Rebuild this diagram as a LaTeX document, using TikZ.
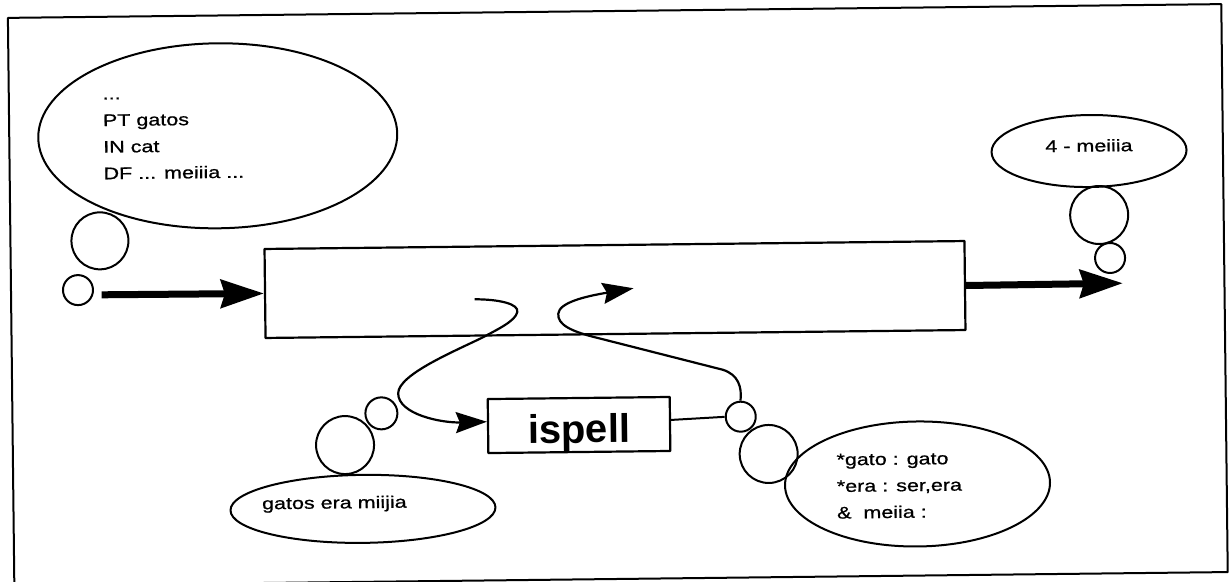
\documentclass[tikz,border=0pt]{standalone}
\usepackage{fontspec}
\setmainfont{Liberation Sans}[FakeStretch=1.28,FakeBold=0.8]
\newfontfamily\ispellfont{Liberation Sans}
\usetikzlibrary{arrows.meta,shapes.geometric}
\begin{document}
\begin{tikzpicture}[x=1pt,y=-1pt,line join=round,
  bubble/.style={draw,line width=2pt,inner sep=0pt},
  circ/.style={bubble,circle},
  ell/.style={bubble,ellipse},
  boxed/.style={draw,line width=2.2pt,inner sep=0pt},
  txt/.style={inner sep=0pt,font=\fontsize{16.8}{26.6}\selectfont},
  bigarrow/.style={line width=7pt,-{Stealth[length=43pt,width=28pt,inset=4pt]}},
  flow/.style={line width=2.2pt,-{Stealth[length=31pt,width=21pt,inset=4pt]}}]
\fill[white] (0,0) rectangle (1230,581);
\useasboundingbox (0,0) rectangle (1230,581);
\begin{scope}[rotate around={0.65:(615,290)},transform shape]
  % frame
  \node[draw,line width=2pt,inner sep=0pt,minimum width=1213.5pt,minimum height=568pt] (frame) at (617.75,295) {};
  % top-left bubble
  \node[ell,minimum width=359pt,minimum height=185pt] (tlell) at (219.5,131.3) {};
  \node[txt,anchor=base west] (tltext) at (104.7,93.7)
    {\begin{tabular}[t]{@{}l@{}}...\\PT gatos\\IN cat\\DF ... meiiia ...\end{tabular}};
  \node[circ,minimum size=57pt] (tlbig) at (100.5,235) {};
  \node[circ,minimum size=30pt] (tlsmall) at (78,284) {};
  % main box
  \node[boxed,minimum width=700pt,minimum height=89pt] (mainbox) at (615,289.5) {};
  \coordinate (lstart) at (101.5,289);
  \coordinate (rend) at (1123,289);
  \draw[bigarrow] (lstart) -- (mainbox.west);
  \draw[bigarrow] (mainbox.east) -- (rend);
  % top-right bubble
  \node[ell,minimum width=195pt,minimum height=72pt] (trell) at (1090.6,156.4) {};
  \node[txt,anchor=base] (trtext) at (1090.6,157) {4 - meiiia};
  \node[circ,minimum size=58pt] (trbig) at (1100,220.5) {};
  \node[circ,minimum size=30pt] (trsmall) at (1110.4,263.6) {};
  % ispell
  \node[boxed,minimum width=182pt,minimum height=54pt,text height=44pt,text depth=8pt,
        font=\ispellfont\bfseries\fontsize{40}{40}\selectfont] (ispell) at (577.5,424.6) {ispell};
  % bottom-left bubble
  \node[ell,minimum width=265pt,minimum height=68pt] (blell) at (360.5,506) {};
  \node[txt,anchor=base east] (bltext) at (404.5,505.3) {gatos era miijia};
  \node[circ,minimum size=58pt] (blbig) at (343.3,442) {};
  \node[circ,minimum size=32pt] (blsmall) at (380,410.7) {};
  % bottom-right bubble
  \node[ell,minimum width=265pt,minimum height=125pt] (brell) at (915.3,487.4) {};
  \node[txt,anchor=base west] (brtext) at (834.4,467.9)
    {\begin{tabular}[t]{@{}l@{}}*gato : gato\\{}*era : ser,era\\\&\ \ meiia :\end{tabular}};
  \node[circ,minimum size=30pt] (brsmall) at (739.3,418.1) {};
  \node[circ,minimum size=58pt] (brbig) at (766.8,455.7) {};
  % flows
  \coordinate (ls) at (474.5,297.7);
  \draw[flow] (ls) .. controls (500,298) and (519,303) .. (517,311)
     .. controls (515,320) and (497,328) .. (483,335.5)
     .. controls (455,349) and (397,372) .. (397,391)
     .. controls (397,412) and (440,421) .. ([yshift=4.3pt]ispell.west);
  \draw[line width=2pt] ([yshift=4pt]ispell.east) -- (brsmall.west);
  \coordinate (rtip) at (633.6,288.5);
  \draw[flow] (brsmall.north) .. controls (741,388) and (737,376) .. (722,371)
     -- (600,338.5) .. controls (570,331) and (557,324) .. (558,313)
     .. controls (559,302) and (585,296) .. (rtip);
\end{scope}
\end{tikzpicture}
\end{document}
